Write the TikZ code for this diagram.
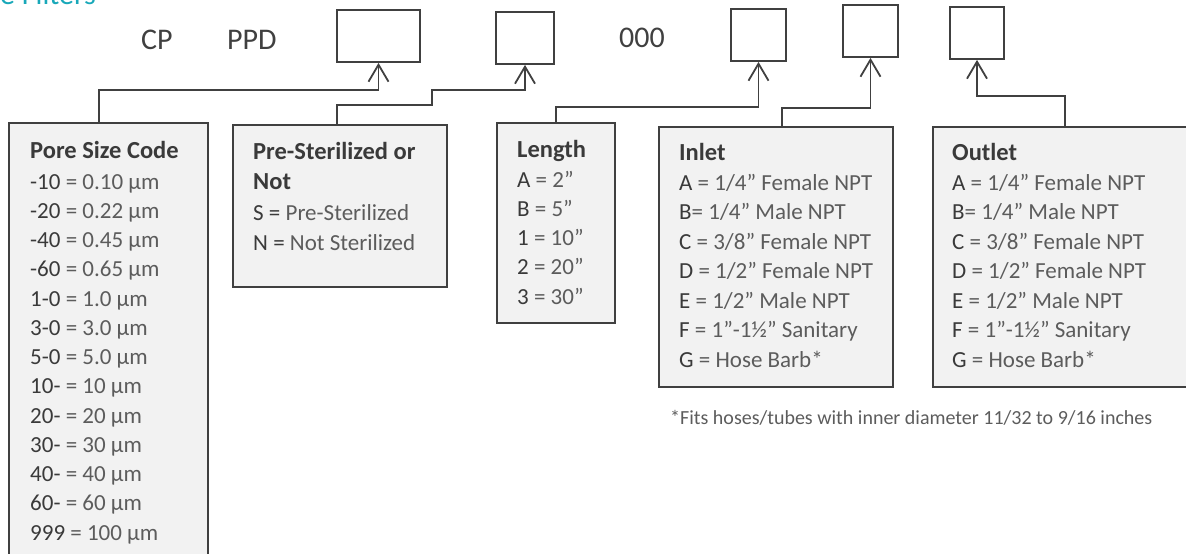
\documentclass[tikz,border=0pt]{standalone}
\usepackage{fontspec}
\setmainfont{Carlito}
\usetikzlibrary{arrows.meta,positioning}
\definecolor{framegray}{HTML}{404040}
\definecolor{boxfill}{HTML}{F2F2F2}
\definecolor{codegray}{HTML}{3A3A3A}
\definecolor{descgray}{HTML}{5C5C5C}
\definecolor{titleteal}{HTML}{19A8B9}
\newcommand{\cd}[1]{\textcolor{codegray}{#1}}
\newcommand{\bodysize}{\fontsize{23}{27}\selectfont}

\begin{document}
\begin{tikzpicture}[x=1pt,y=-1pt,
	slot/.style={draw=framegray,line width=1.8pt,minimum height=52pt,inner sep=0pt},
	legend/.style={draw=framegray,fill=boxfill,line width=1.8pt,anchor=north west,inner sep=0pt},
	feed/.style={draw=framegray,line width=1.8pt,-{Straight Barb[length=17pt,width=20pt]}},
	head/.style={anchor=base west,inner sep=0pt,font=\fontsize{24.5}{28}\selectfont\bfseries,text=codegray},
	item/.style={anchor=base west,inner sep=0pt,font=\bodysize,text=descgray},
	code/.style={anchor=base west,inner sep=0pt,font=\fontsize{30}{34}\selectfont,text=framegray}]
	\useasboundingbox (0,0) rectangle (1186,554);
	
	%title, cut at the top
	\node[anchor=base west,inner sep=0pt,font=\fontsize{30}{34}\selectfont,text=titleteal] (title) at (0,5) {e Filters};
	
	%fixed parts of the code
	\node[code] (cp) at (141,49) {CP};
	\node[code] (ppd) at (227,49) {PPD};
	\node[code] (zeros) at (619,47) {000};
	
	%empty slots
	\node[slot,minimum width=83pt] (s1) at (378.5,36) {};
	\node[slot,minimum width=58pt] (s2) at (525,38) {};
	\node[slot,minimum width=55pt] (s3) at (758.5,35) {};
	\node[slot,minimum width=55pt] (s4) at (870.5,31) {};
	\node[slot,minimum width=54pt] (s5) at (977,33) {};
	
	%legend boxes
	\node[legend,minimum width=199pt,minimum height=450pt] (pore) at (8,122) {};
	\node[legend,minimum width=214pt,minimum height=162pt] (steril) at (232,124) {};
	\node[legend,minimum width=118pt,minimum height=200pt] (length) at (496,122) {};
	\node[legend,minimum width=234pt,minimum height=260pt] (inlet) at (658,126) {};
	\node[legend,minimum width=264pt,minimum height=260pt] (outlet) at (932,126) {};
	
	%connectors
	\draw[feed] ([xshift=-9.5pt]pore.north) -- ++(0,-32) -| (s1.south);
	\draw[feed] ([xshift=-3pt]steril.north) -- ++(0,-19) -| ++(95,-15) -| (s2.south);
	\draw[feed] (length.north) -- ++(0,-15) -| (s3.south);
	\draw[feed] ([xshift=6pt]inlet.north) -- ++(0,-18) -| (s4.south);
	\draw[feed] (outlet.north) -- ++(0,-30) -| (s5.south);
	
	%Pore Size Code
	\node[head] (pore-h) at (30,158) {Pore Size Code};
	\foreach \t [count=\i] in {{\cd{-10} = 0.10 µm},{\cd{-20} = 0.22 µm},{\cd{-40} = 0.45 µm},{\cd{-60} = 0.65 µm},
		{\cd{1-0} = 1.0 µm},{\cd{3-0} = 3.0 µm},{\cd{5-0} = 5.0 µm},{\cd{10-} = 10 µm},{\cd{20-} = 20 µm},
		{\cd{30-} = 30 µm},{\cd{40-} = 40 µm},{\cd{60-} = 60 µm},{\cd{999} = 100 µm}}
		\node[item] (pore-\i) at (30,{189+29.25*(\i-1)}) {\t};
	
	%Pre-Sterilized or Not
	\node[head] (steril-h1) at (253,159) {Pre-Sterilized or};
	\node[head] (steril-h2) at (253,189) {Not};
	\node[item] (steril-1) at (253,220) {\cd{S =} Pre-Sterilized};
	\node[item] (steril-2) at (253,250) {\cd{N =} Not Sterilized};
	
	%Length
	\node[head] (length-h) at (517,157) {Length};
	\foreach \t [count=\i] in {{\cd{A} = 2”},{\cd{B} = 5”},{\cd{1} = 10”},{\cd{2} = 20”},{\cd{3} = 30”}}
		\node[item] (length-\i) at (517,{187+29.25*(\i-1)}) {\t};
	
	%Inlet and Outlet
	\node[head] (inlet-h) at (679,160) {Inlet};
	\node[head] (outlet-h) at (952,160) {Outlet};
	\foreach \t [count=\i] in {{\cd{A} = 1/4” Female NPT},{\cd{B}= 1/4” Male NPT},{\cd{C} = 3/8” Female NPT},
		{\cd{D} = 1/2” Female NPT},{\cd{E} = 1/2” Male NPT},{\cd{F} = 1”-1½” Sanitary},{\cd{G} = Hose Barb*}}
	{
		\node[item] (inlet-\i) at (679,{190+29.5*(\i-1)}) {\t};
		\node[item] (outlet-\i) at (952,{190+29.5*(\i-1)}) {\t};
	}
	
	%footnote
	\node[item,font=\fontsize{20}{24}\selectfont] (note) at (670,424) {*Fits hoses/tubes with inner diameter 11/32 to 9/16 inches};
\end{tikzpicture}
\end{document}
